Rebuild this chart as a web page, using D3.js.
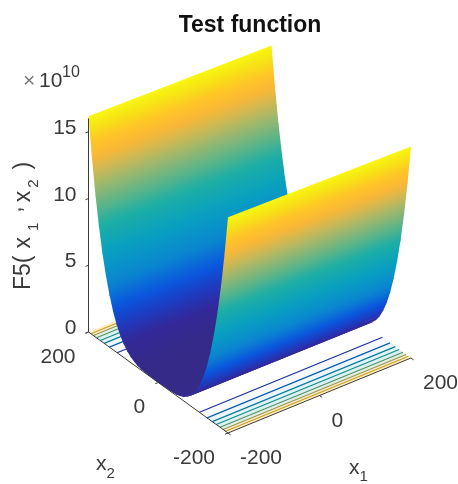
<!DOCTYPE html>
<html><head><meta charset="utf-8">
<script src="https://cdnjs.cloudflare.com/ajax/libs/d3/7.8.5/d3.min.js"></script>
<style>html,body{margin:0;padding:0;background:#fff}svg{display:block;filter:blur(0.45px)}text{font-family:"Liberation Sans",Arial,sans-serif;fill:#3a3a3a}</style>
</head><body><svg id="c" width="458" height="484"></svg>
<script>
// values (z in units of 1e10)
const x2Grid=[200,190,180,170,160,150,140,130,120,110,100,90,80,70,60,50,40,30,20,10,0,-10,-20,-30,-40,-50,-60,-70,-80,-90,-100,-110,-120,-130,-140,-150,-160,-170,-180,-190,-200];
const zAtLeft=[16.16,13.18,10.63,8.47,6.66,5.15,3.92,2.92,2.13,1.51,1.04,0.69,0.44,0.26,0.14,0.073,0.032,0.012,0.0036,0.0009,0.0004,0.0009,0.0036,0.012,0.032,0.073,0.14,0.26,0.44,0.69,1.04,1.51,2.13,2.92,3.92,5.15,6.66,8.47,10.63,13.18,16.16];
const zAtRight=[15.84,12.89,10.37,8.24,6.45,4.97,3.76,2.79,2.02,1.42,0.96,0.62,0.38,0.22,0.12,0.053,0.020,0.005,0.0004,0.0001,0.0004,0.0001,0.0004,0.005,0.020,0.053,0.12,0.22,0.38,0.62,0.96,1.42,2.02,2.79,3.76,4.97,6.45,8.24,10.37,12.89,15.84];
const contourLevels=[2,4,6,8,10,12,14];
const contourX2=[118,140,155,166,177,186,193];
const x1Ticks=[-200,0,200];
const x2Ticks=[200,0,-200];
const zTicks=[0,5,10,15];
const colourZ=[0,1,2,3,4.5,6.5,8.4,9.7,11.3,12.5,13.2,14.3,15,16.16];
const colourHex=["#352A87","#33289A","#1E3BC0","#0A55DD","#0A85D0","#08A0C0","#1EAEA4","#5CB488","#A8B868","#E0B848","#FDB733","#FEC825","#F6E015","#F9FB0E"];

const svg=d3.select("#c");
const ox=88.5,oy=332;
const zS=d3.scaleLinear([0,16],[0,13.35*16]);
const x1X=d3.scaleLinear([-200,200],[0,183]);
const x1Y=d3.scaleLinear([-200,200],[0,-75]);
const x2X=d3.scaleLinear([200,-200],[0,139.5]);
const x2Y=d3.scaleLinear([200,-200],[0,101]);
const P=(a,b,z)=>[ox+x1X(a)+x2X(b), oy+x1Y(a)+x2Y(b)-zS(z)];
const col=d3.scaleLinear().domain(colourZ).range(colourHex).interpolate(d3.interpolateRgb);
const axisCol="#3a3a3a";

// contours on the floor
const floor=svg.append("g");
const bandEdges=contourX2.concat([200]);
const bandLevels=contourLevels.concat([16]);
d3.range(bandEdges.length-1).forEach(i=>{[1,-1].forEach(s=>{
  const q=[P(-200,s*bandEdges[i],0),P(200,s*bandEdges[i],0),P(200,s*bandEdges[i+1],0),P(-200,s*bandEdges[i+1],0)];
  floor.append("path").attr("d",d3.line()(q)+"Z").attr("fill",col(bandLevels[i])).attr("fill-opacity",0.03+0.045*i);
});});
contourLevels.forEach((lv,i)=>{[1,-1].forEach(s=>{
  const a=P(-200,s*contourX2[i],0),b=P(200,s*contourX2[i],0);
  floor.append("line").attr("x1",a[0]).attr("y1",a[1]).attr("x2",b[0]).attr("y2",b[1])
   .attr("stroke",d3.color(col(lv)).darker(0.6)).attr("stroke-width",1.15);
});});

// surface, painted back to front; each strip runs a little under the next one so no seams show
const defs=svg.append("defs"),surf=svg.append("g");
const nudge=(p,from,len)=>{const dx=p[0]-from[0],dy=p[1]-from[1],n=Math.hypot(dx,dy)||1;return [p[0]+dx/n*len,p[1]+dy/n*len];};
d3.range(x2Grid.length-1).forEach(i=>{
  const j=i+1,last=j===x2Grid.length-1,a=P(-200,x2Grid[i],zAtLeft[i]),b=P(200,x2Grid[i],zAtRight[i]),
        c=P(200,x2Grid[j],zAtRight[j]),d=P(-200,x2Grid[j],zAtLeft[j]);
  const m1=[(a[0]+b[0])/2,(a[1]+b[1])/2],m2=[(c[0]+d[0])/2,(c[1]+d[1])/2];
  let ex=b[0]-a[0],ey=b[1]-a[1];const L=Math.hypot(ex,ey);ex/=L;ey/=L;
  const nx=-ey,ny=ex,t=(m2[0]-m1[0])*nx+(m2[1]-m1[1])*ny;
  const z1=(zAtLeft[i]+zAtRight[i])/2,z2=(zAtLeft[j]+zAtRight[j])/2;
  const g=defs.append("linearGradient").attr("id","g"+i).attr("gradientUnits","userSpaceOnUse")
    .attr("x1",m1[0]).attr("y1",m1[1]).attr("x2",m1[0]+nx*t).attr("y2",m1[1]+ny*t);
  d3.range(0,1.01,0.2).forEach(f=>g.append("stop").attr("offset",f).attr("stop-color",col(z1+(z2-z1)*f)));
  const len=last?0:1.2;
  surf.append("path").attr("d",d3.line()([a,b,nudge(c,b,len),nudge(d,a,len)])+"Z").attr("fill",`url(#g${i})`);
});

// axes
const ax=svg.append("g").attr("stroke",axisCol).attr("stroke-width",1).attr("fill","none");
const seg=(p,q)=>ax.append("line").attr("x1",p[0]).attr("y1",p[1]).attr("x2",q[0]).attr("y2",q[1]);
seg(P(-200,200,0),P(-200,-200,0));
seg(P(-200,-200,0),P(200,-200,0));
seg(P(-200,200,0),P(-200,200,16));
zTicks.forEach(z=>{const p=P(-200,200,z);seg(p,[p[0]-3,p[1]+1.2]);});
x1Ticks.forEach(v=>{const p=P(v,-200,0);seg(p,[p[0]+2.6,p[1]+1.9]);});
x2Ticks.forEach(v=>{const p=P(-200,v,0);seg(p,[p[0]-3,p[1]+1.2]);});

// text
const T=(x,y,s,anchor,size)=>svg.append("text").attr("x",x).attr("y",y).attr("text-anchor",anchor||"start").attr("font-size",size||21).text(s);
zTicks.forEach(z=>{const p=P(-200,200,z);T(p[0]-12,p[1]+2,String(z),"end");});
x1Ticks.forEach(v=>{const p=P(v,-200,0);T(p[0]+12,p[1]+31,String(v));});
x2Ticks.forEach(v=>{const p=P(-200,v,0);T(p[0]-13,p[1]+30.5,String(v),"end");});
T(250,32,"Test function","middle",23).attr("font-weight","bold").style("fill","#111");
T(23,87,"×",null,21).style("fill","#777");
T(39,87,"10",null,21);
T(62,77,"10",null,16);
const sub=(x,y,a,b,d)=>{const t=T(x,y,a,null,21);t.append("tspan").attr("dy",d).attr("font-size",15).text(b);};
sub(96,470,"x","2",8);
sub(349,474,"x","1",7);
const yl=svg.append("text").attr("transform","translate(29.5,290) rotate(-90)").attr("font-size",23);
const part=(s,dx,dy,size)=>{const t=yl.append("tspan").attr("dx",dx).attr("dy",dy).text(s);if(size)t.attr("font-size",size);};
part("F5(",0,0);
part("x",7,0);
part("1",6,8,15);
part(",",10,-17);
part("x",4,9);
part("2",3,8,15);
part(")",10,-8);
</script></body></html>
